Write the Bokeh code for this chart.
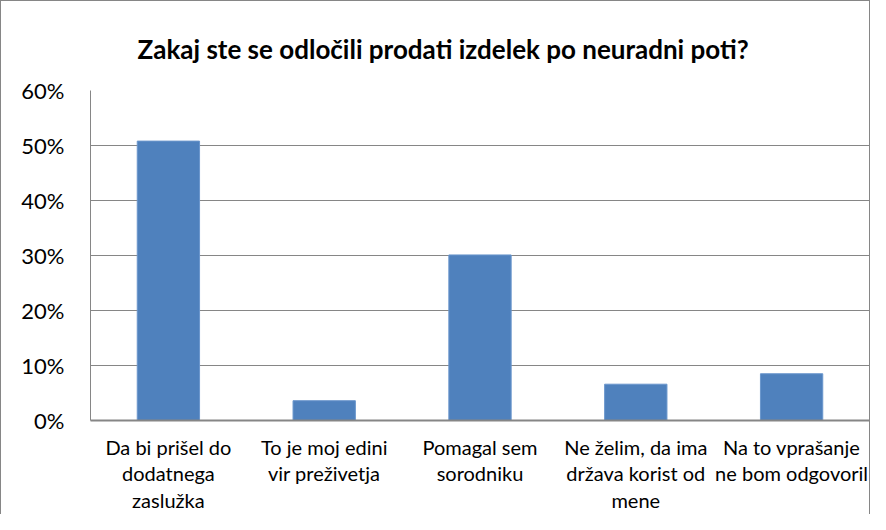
from bokeh.plotting import figure
from bokeh.models import FactorRange, NumeralTickFormatter, FixedTicker, ColumnDataSource
from bokeh.embed import file_html
from bokeh.resources import INLINE

title_text = "Zakaj ste se odločili prodati izdelek po neuradni poti?"
categories = [
    "Da bi prišel do\ndodatnega\nzaslužka",
    "To je moj edini\nvir preživetja",
    "Pomagal sem\nsorodniku",
    "Ne želim, da ima\ndržava korist od\nmene",
    "Na to vprašanje\nne bom odgovoril",
]
values = [0.508, 0.036, 0.301, 0.066, 0.085]
y_ticks = [0.0, 0.1, 0.2, 0.3, 0.4, 0.5, 0.6]

FONT = "Lato"
GRAY = "#868686"

src = ColumnDataSource(data=dict(cat=categories, val=values))

p = figure(
    width=870, height=514,
    x_range=FactorRange(*categories, range_padding=0),
    y_range=(0, 0.6),
    output_backend="svg", toolbar_location=None,
    min_border_left=89, min_border_top=89, min_border_bottom=93, min_border_right=2,
)
p.styles = {"border-left": f"1px solid {GRAY}", "border-top": f"1px solid {GRAY}",
            "border-right": f"1px solid {GRAY}"}

p.vbar(x="cat", top="val", width=0.4, source=src, fill_color="#4F81BD",
       line_color="#6A96CC", line_width=1)

p.title.text = title_text
p.title.text_font = FONT
p.title.text_font_size = "26px"
p.title.text_font_style = "bold"
p.title.text_color = "#000000"
p.title.align = "left"
p.title.offset = 47
p.title.standoff = 52

p.outline_line_color = None
p.background_fill_color = "white"
p.border_fill_color = "white"

p.xgrid.grid_line_color = None
p.ygrid.grid_line_color = GRAY
p.ygrid.grid_line_width = 1
p.ygrid.ticker = FixedTicker(ticks=y_ticks)

p.yaxis.ticker = FixedTicker(ticks=y_ticks)
p.yaxis.formatter = NumeralTickFormatter(format="0%")
p.yaxis.axis_line_color = GRAY
p.yaxis.major_tick_out = 0
p.yaxis.major_tick_in = 0
p.yaxis.minor_tick_line_color = None
p.yaxis.major_label_standoff = 26
p.yaxis.major_label_text_font = FONT
p.yaxis.major_label_text_font_size = "22px"
p.yaxis.major_label_text_color = "#000000"

p.xaxis.axis_line_color = GRAY
p.xaxis.axis_line_width = 2
p.xaxis.major_tick_line_color = None
p.xaxis.minor_tick_line_color = None
p.xaxis.major_label_standoff = 8
p.xaxis.major_label_text_font = FONT
p.xaxis.major_label_text_font_size = "20px"
p.xaxis.major_label_text_color = "#000000"
p.xaxis.major_label_text_line_height = 1.12

open("out.html", "w").write(file_html(p, INLINE))
